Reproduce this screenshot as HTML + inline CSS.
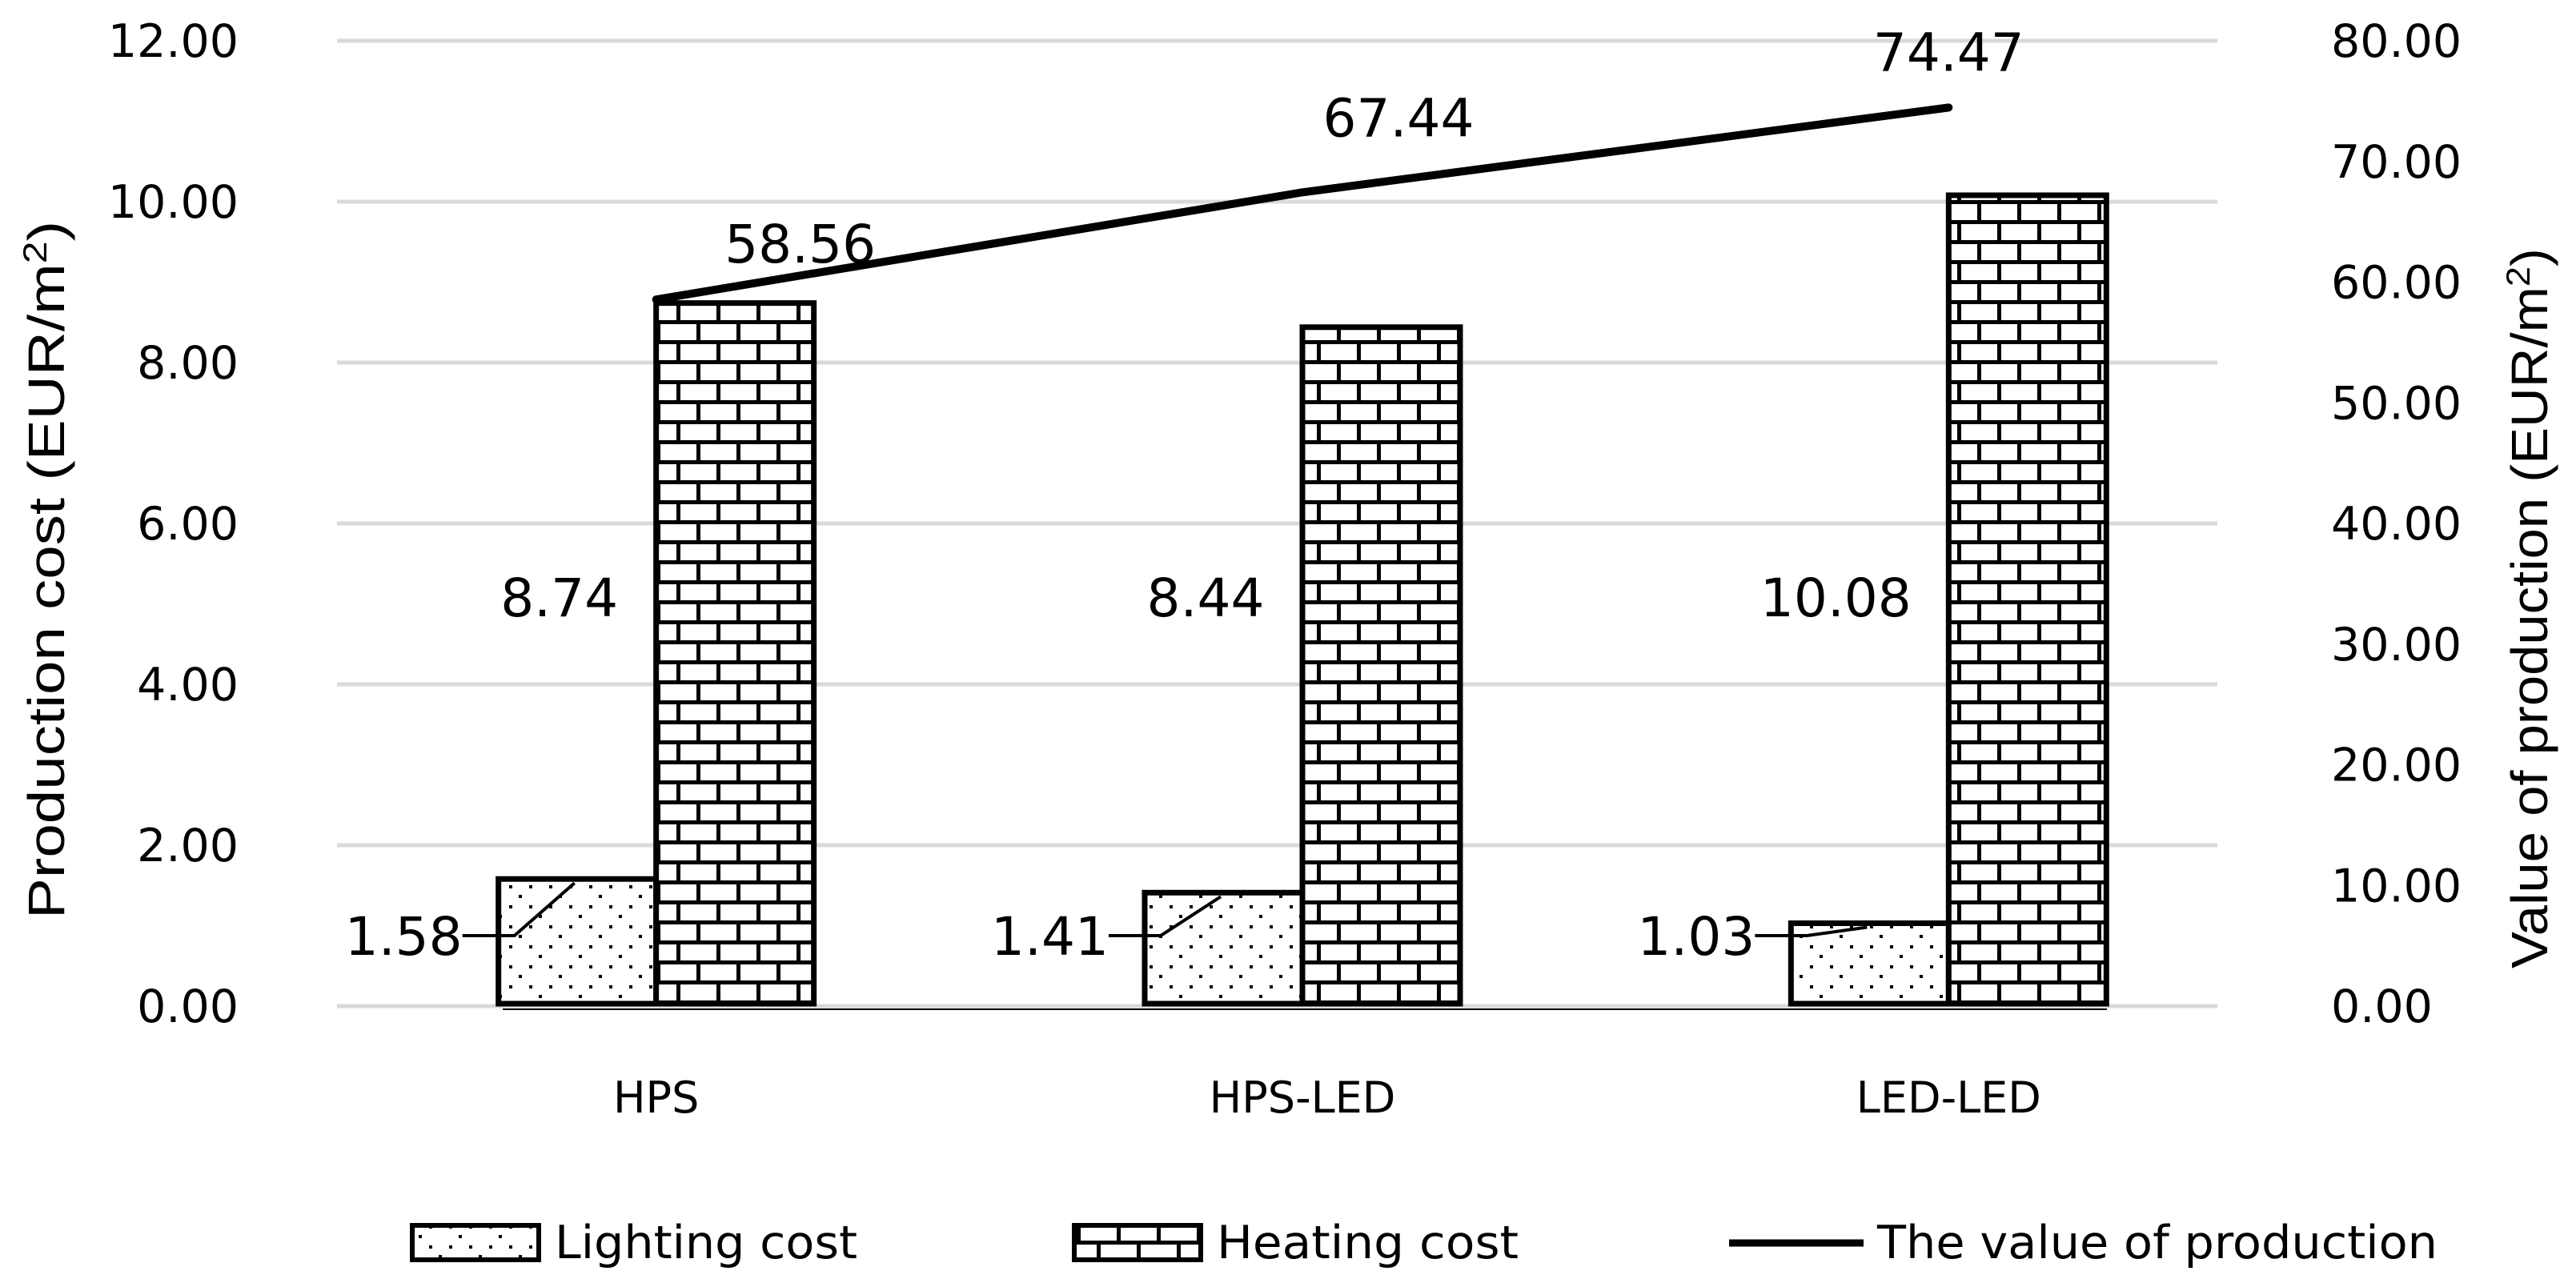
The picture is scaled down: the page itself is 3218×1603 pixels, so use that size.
<!DOCTYPE html>
<html><head><meta charset="utf-8"><style>
html,body{margin:0;padding:0;background:#fff;}
svg{display:block;font-family:"DejaVu Sans","Liberation Sans",sans-serif;}
</style></head><body>
<svg id="chart" width="3218" height="1603" viewBox="0 0 3218 1603" xmlns="http://www.w3.org/2000/svg">
<defs>
<pattern id="dots" patternUnits="userSpaceOnUse" width="50" height="50" x="628" y="0">
<rect width="50" height="50" fill="#fff"/>
<rect x="8" y="6" width="4" height="4" fill="#000"/><rect x="33" y="6" width="4" height="4" fill="#000"/>
<rect x="8" y="31" width="4" height="4" fill="#000"/><rect x="33" y="31" width="4" height="4" fill="#000"/>
<rect x="20" y="18" width="4" height="4" fill="#000"/><rect x="45" y="43" width="4" height="4" fill="#000"/>
</pattern>
<pattern id="bricks" patternUnits="userSpaceOnUse" width="50" height="50" x="0" y="0">
<rect width="50" height="50" fill="#fff"/>
<rect x="0" y="0" width="50" height="5" fill="#000"/>
<rect x="0" y="25" width="50" height="5" fill="#000"/>
<rect x="20" y="0" width="5" height="25" fill="#000"/>
<rect x="45" y="25" width="5" height="25" fill="#000"/>
</pattern>
</defs>
<g id="grid"></g>
<g id="bars"></g>
<g id="lineg"></g>
<g id="labels"></g>
<text transform="translate(80,712) rotate(-90)" text-anchor="middle" font-family="Liberation Sans, sans-serif" font-size="64" textLength="872" lengthAdjust="spacingAndGlyphs">Production cost (EUR/m<tspan font-size="42" dy="-22">2</tspan><tspan dy="22">)</tspan></text>
<text transform="translate(3182,760) rotate(-90)" text-anchor="middle" font-family="Liberation Sans, sans-serif" font-size="64" textLength="900" lengthAdjust="spacingAndGlyphs">Value of production (EUR/m<tspan font-size="42" dy="-22">2</tspan><tspan dy="22">)</tspan></text>
<g>
<rect x="515" y="1531" width="158" height="43" fill="url(#dots)" stroke="#000" stroke-width="6"/>
<text x="693" y="1572" font-size="57" textLength="378" lengthAdjust="spacingAndGlyphs">Lighting cost</text>
<rect x="1342" y="1531" width="158" height="43" fill="url(#bricks)" stroke="#000" stroke-width="6"/>
<text x="1520" y="1572" font-size="57" textLength="377" lengthAdjust="spacingAndGlyphs">Heating cost</text>
<line x1="2160" y1="1553" x2="2328" y2="1553" stroke="#000" stroke-width="9"/>
<text x="2345" y="1572" font-size="57" textLength="700" lengthAdjust="spacingAndGlyphs">The value of production</text>
</g>
</svg>
<script>
const categories = ["HPS", "HPS-LED", "LED-LED"];
const lightingCost = [1.58, 1.41, 1.03];
const heatingCost = [8.74, 8.44, 10.08];
const productionValue = [58.56, 67.44, 74.47];
const leftTicks = ["0.00","2.00","4.00","6.00","8.00","10.00","12.00"];
const rightTicks = ["0.00","10.00","20.00","30.00","40.00","50.00","60.00","70.00","80.00"];

const NS = "http://www.w3.org/2000/svg";
const plotL = 416, plotR = 2838, y0 = 1257, y12 = 51;
const gridL = 421, gridR = 2770;
const catW = (plotR - plotL) / categories.length;
const yL = v => y0 - (v / 12) * (y0 - y12);
const yR = v => y0 - (v / 80) * (y0 - y12);
const xC = i => plotL + catW * (i + 0.5);
const barW = 197;
const valDx = [180, 120, 0];
const valDy = [-46, -70, -46];
function mk(tag, attrs, parent, txt) {
  const e = document.createElementNS(NS, tag);
  for (const k in attrs) e.setAttribute(k, attrs[k]);
  if (txt !== undefined) e.textContent = txt;
  parent.appendChild(e);
  return e;
}
const grid = document.getElementById('grid');
const bars = document.getElementById('bars');
const lineg = document.getElementById('lineg');
const labels = document.getElementById('labels');

leftTicks.forEach((t) => {
  const v = parseFloat(t);
  const g = mk('line', {x1: gridL, x2: gridR, y1: yL(v), y2: yL(v), stroke: '#d9d9d9', 'stroke-width': 5}, grid);
  
  
  const tx = mk('text', {x: 298, y: yL(v) + 20, 'text-anchor': 'end', 'font-size': 57}, labels, t);
  
  
});
rightTicks.forEach((t) => {
  const v = parseFloat(t);
  const tx = mk('text', {x: 2912, y: yR(v) + 20, 'font-size': 57}, labels, t);
  
  
});

const axis = mk('line', {x1: 628, x2: 2632, y1: y0 + 4, y2: y0 + 4, stroke: '#000', 'stroke-width': 2}, grid);



categories.forEach((c, i) => {
  const cx = xC(i);
  const lx = cx - barW, hx = cx;
  const lt = yL(lightingCost[i]), ht = yL(heatingCost[i]);
  const lb = mk('rect', {x: lx, y: lt, width: barW, height: y0 - 3 - lt, fill: 'url(#dots)', stroke: '#000', 'stroke-width': 7}, bars);
  
  
  const hb = mk('rect', {x: hx, y: ht, width: barW, height: y0 - 3 - ht, fill: 'url(#bricks)', stroke: '#000', 'stroke-width': 7}, bars);
  
  

  const ly = y0 - 88;
  const ld = mk('polyline', {points: `${lx - 45},${ly} ${lx + 20},${ly} ${lx + 95},${lt + 5}`, fill: 'none', stroke: '#000', 'stroke-width': 4}, bars);
  
  
  const ll = mk('text', {x: lx - 45, y: ly + 24, 'text-anchor': 'end', 'font-size': 66}, labels, lightingCost[i].toFixed(2));
  
  
  const hl = mk('text', {x: lx + 76 + (heatingCost[i] >= 10 ? -20 : 0), y: 770, 'text-anchor': 'middle', 'font-size': 66}, labels, heatingCost[i].toFixed(2));
  
  

  const cl = mk('text', {x: cx, y: 1390, 'text-anchor': 'middle', 'font-size': 54}, labels, c);
  
  

  const vl = mk('text', {x: cx + valDx[i], y: yR(productionValue[i]) + valDy[i], 'text-anchor': 'middle', 'font-size': 66}, labels, productionValue[i].toFixed(2));
  
  
});

const pts = productionValue.map((v, i) => `${xC(i)},${yR(v)}`).join(' ');
const pl = mk('polyline', {points: pts, fill: 'none', stroke: '#000', 'stroke-width': 10, 'stroke-linecap': 'round', 'stroke-linejoin': 'round'}, lineg);


</script>
</body></html>
